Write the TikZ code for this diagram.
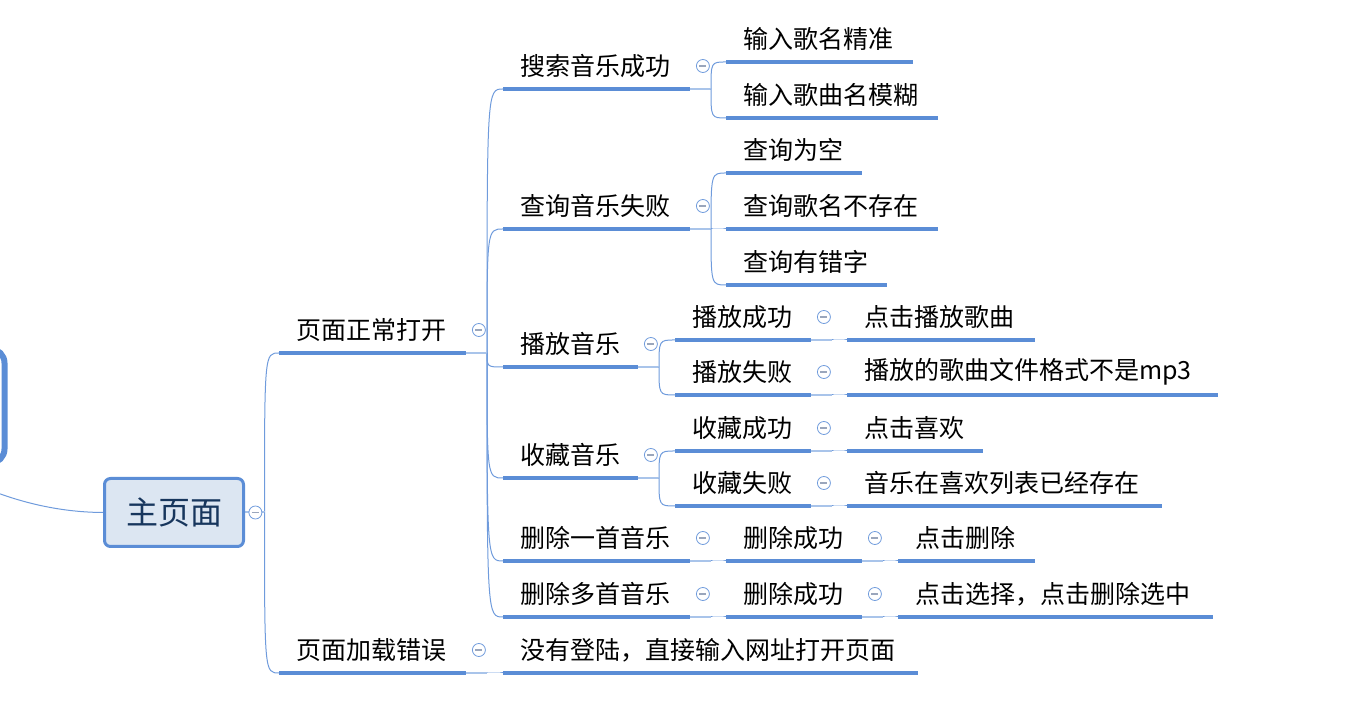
\documentclass[tikz,border=0pt]{standalone}
\usepackage{fontspec}
\newfontfamily\cjk{Noto Sans CJK SC}
\usetikzlibrary{positioning,backgrounds}
\definecolor{mapblue}{HTML}{5B8DD6}
\definecolor{linkblue}{HTML}{6F9BDC}
\definecolor{stubblue}{HTML}{A9C4EA}
\definecolor{mainfill}{HTML}{DCE6F2}
\definecolor{maintext}{HTML}{17365D}
\definecolor{foldgray}{HTML}{9AA6BC}
\begin{document}
\begin{tikzpicture}[x=1pt,y=1pt,font=\cjk\fontsize{25}{30}\selectfont,
  topic/.style={anchor=south west,minimum height=46pt,inner xsep=17pt,inner ysep=0pt,
    outer sep=0pt,align=left,text width=#1},
  uline/.style={mapblue,line width=4pt},
  link/.style={linkblue,line width=1pt},
  stub/.style={stubblue,line width=2pt},
  fold/.style={circle,draw=linkblue,fill=white,line width=0.8pt,minimum size=13pt,inner sep=0pt,
    path picture={\draw[foldgray,line width=1.5pt] ([xshift=-3.5pt]path picture bounding box.center)
      -- ([xshift=3.5pt]path picture bounding box.center);}}]
	\useasboundingbox (0,0) rectangle (1369,701);
	\clip (0,0) rectangle (1369,701);

	%root (cut off at the left edge)
	\node[draw=mapblue,line width=6pt,rounded corners=14pt,fill=white,outer sep=0pt,
	  minimum width=300pt,minimum height=114pt,anchor=east] (root) at (4.5,295) {};
	%main topic
	\node[draw=mapblue,line width=3pt,fill=mainfill,rounded corners=6pt,outer sep=0pt,
	  minimum width=139pt,minimum height=68pt,text=maintext,
	  font=\cjk\fontsize{32}{38}\selectfont] (main) at (174,188.5) {主页面};

	%level 1
	\node[topic=153pt] (l1) at (279,348) {页面正常打开};
	\node[topic=153pt] (l2) at (279,28) {页面加载错误};

	%level 2
	\node[topic=153pt] (s1) at (503,612) {搜索音乐成功};
	\node[topic=153pt] (s2) at (503,472) {查询音乐失败};
	\node[topic=101pt] (s3) at (503,334) {播放音乐};
	\node[topic=101pt] (s4) at (503,223) {收藏音乐};
	\node[topic=153pt] (s5) at (503,140) {删除一首音乐};
	\node[topic=153pt] (s6) at (503,84) {删除多首音乐};
	\node[topic=381pt] (s7) at (503,28) {没有登陆，直接输入网址打开页面};

	%level 3
	\node[topic=153pt] (t1) at (726,639) {输入歌名精准};
	\node[topic=178pt] (t2) at (726,583) {输入歌曲名模糊};
	\node[topic=102pt] (t3) at (726,528) {查询为空};
	\node[topic=178pt] (t4) at (726,472) {查询歌名不存在};
	\node[topic=127pt] (t5) at (726,416) {查询有错字};
	\node[topic=102pt] (t6) at (675,361) {播放成功};
	\node[topic=102pt] (t7) at (675,306) {播放失败};
	\node[topic=102pt] (t8) at (675,250) {收藏成功};
	\node[topic=102pt] (t9) at (675,195) {收藏失败};
	\node[topic=102pt] (t10) at (726,140) {删除成功};
	\node[topic=102pt] (t11) at (726,84) {删除成功};

	%level 4
	\node[topic=154pt] (u1) at (847,361) {点击播放歌曲};
	\node[topic=337pt] (u2) at (847,306) {播放的歌曲文件格式不是mp3};
	\node[topic=102pt] (u3) at (847,250) {点击喜欢};
	\node[topic=281pt] (u4) at (847,195) {音乐在喜欢列表已经存在};
	\node[topic=103pt] (u5) at (898,140) {点击删除};
	\node[topic=281pt] (u6) at (898,84) {点击选择，点击删除选中};

	%underlines
	\foreach \n in {l1,l2,s1,s2,s3,s4,s5,s6,s7,t1,t2,t3,t4,t5,t6,t7,t8,t9,t10,t11,u1,u2,u3,u4,u5,u6}
	  \draw[uline] (\n.south west) -- (\n.south east);

	%fold buttons
	\node[fold,right=5pt of main] (mainf) {};
	\foreach \n in {l1,l2,s1,s2,s3,s4,s5,s6,t6,t7,t8,t9,t10,t11}
	  \node[fold,right=6pt of \n] (\n f) {};

	%connectors
	\begin{scope}[on background layer]
	\draw[link] (root.center) .. controls +(83,-71) and +(-83,0) .. (main.west); %root to main
	\foreach \p/\c in {main.east/l1, main.east/l2,
	    l1.south east/s1, l1.south east/s2, l1.south east/s3, l1.south east/s4,
	    l1.south east/s5, l1.south east/s6, l2.south east/s7,
	    s1.south east/t1, s1.south east/t2,
	    s2.south east/t3, s2.south east/t4, s2.south east/t5,
	    s3.south east/t6, s3.south east/t7, s4.south east/t8, s4.south east/t9,
	    s5.south east/t10, s6.south east/t11,
	    t6.south east/u1, t7.south east/u2, t8.south east/u3, t9.south east/u4,
	    t10.south east/u5, t11.south east/u6}
	  {\draw[stub] (\p) -- ++(21,0) coordinate (k);
	   \draw[link] (k) .. controls (k |- \c.south west) and (k |- \c.south west) .. (\c.south west);}
	\end{scope}
\end{tikzpicture}
\end{document}
